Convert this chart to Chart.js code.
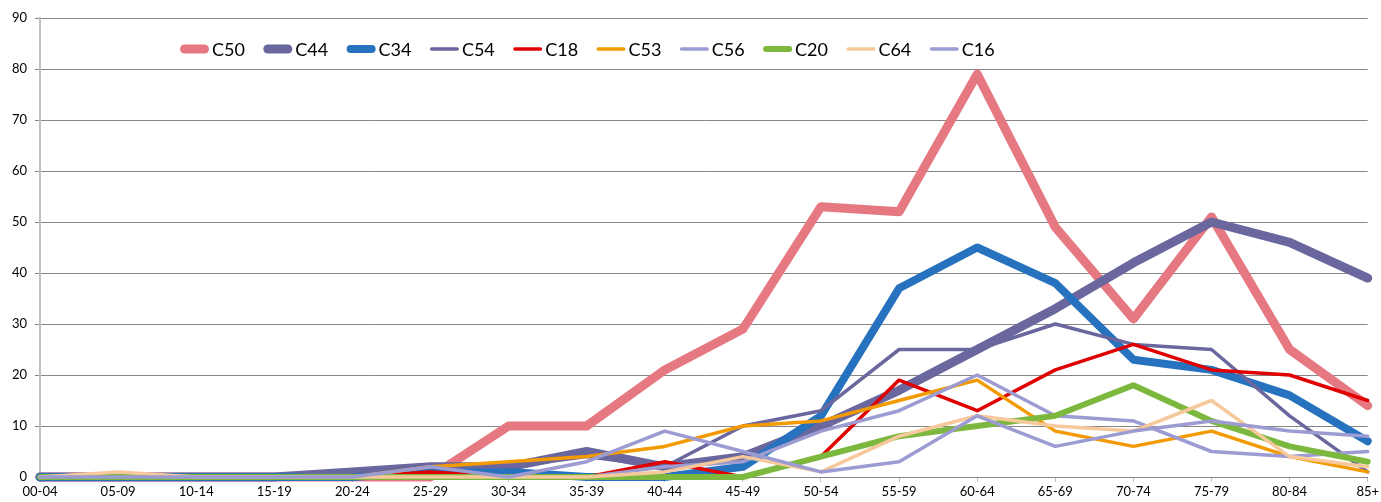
<!DOCTYPE html>
<html>
<head>
<meta charset="utf-8">
<script src="https://cdn.jsdelivr.net/npm/chart.js@4"></script>
<style>
  html, body { margin: 0; padding: 0; background: #fff; }
  #wrap { width: 1381px; height: 502px; }
</style>
</head>
<body>
<div id="wrap"><canvas id="grafico"></canvas></div>
<script>
// categorias e séries
const ageGroups = ['00-04', '05-09', '10-14', '15-19', '20-24', '25-29', '30-34', '35-39', '40-44',
  '45-49', '50-54', '55-59', '60-64', '65-69', '70-74', '75-79', '80-84', '85+'];
const C50 = [0, 0, 0, 0, 0, 0, 10, 10, 21, 29, 53, 52, 79, 49, 31, 51, 25, 14];
const C44 = [0, 0, 0, 0, 1, 2, 2, 5, 2, 4, 10, 17, 25, 33, 42, 50, 46, 39];
const C34 = [0, 0, 0, 0, 0, 1, 1, 0, 0, 2, 12, 37, 45, 38, 23, 21, 16, 7];
const C54 = [0, 0, 0, 0, 1, 2, 2, 4, 2, 10, 13, 25, 25, 30, 26, 25, 12, 1];
const C18 = [0, 0, 0, 0, 0, 1, 0, 0, 3, 0, 4, 19, 13, 21, 26, 21, 20, 15];
const C53 = [0, 0, 0, 0, 0, 2, 3, 4, 6, 10, 11, 15, 19, 9, 6, 9, 4, 1];
const C56 = [0, 0, 0, 0, 0, 0, 0, 0, 2, 3, 9, 13, 20, 12, 11, 5, 4, 5];
const C20 = [0, 0, 0, 0, 0, 0, 0, 0, 0, 0, 4, 8, 10, 12, 18, 11, 6, 3];
const C64 = [0, 1, 0, 0, 0, 0, 0, 0, 1, 4, 1, 8, 12, 10, 9, 15, 4, 2];
const C16 = [0, 0, 0, 0, 0, 2, 0, 3, 9, 5, 1, 3, 12, 6, 9, 11, 9, 8];
const yTicks = [0, 10, 20, 30, 40, 50, 60, 70, 80, 90];

const series = [
  { label: 'C50', data: C50, color: '#E67882', width: 9 },
  { label: 'C44', data: C44, color: '#69679E', width: 9 },
  { label: 'C34', data: C34, color: '#2672BE', width: 8 },
  { label: 'C54', data: C54, color: '#69679E', width: 3.5 },
  { label: 'C18', data: C18, color: '#E00000', width: 3.5 },
  { label: 'C53', data: C53, color: '#F29A00', width: 3.5 },
  { label: 'C56', data: C56, color: '#9C9BD2', width: 3.5 },
  { label: 'C20', data: C20, color: '#7DB83E', width: 6 },
  { label: 'C64', data: C64, color: '#F6C89C', width: 3.5 },
  { label: 'C16', data: C16, color: '#9C9BD2', width: 3.5 }
];

const fonte = 'Lato, "Noto Sans", sans-serif';

// legenda desenhada dentro da área do gráfico
const legendaInterna = {
  id: 'legendaInterna',
  afterDraw(chart) {
    const c = chart.ctx;
    c.save();
    c.font = '18px ' + fonte;
    c.textBaseline = 'middle';
    c.lineCap = 'round';
    series.forEach((s, i) => {
      const x = 180 + i * 83.3;
      const y = 49;
      c.strokeStyle = s.color;
      c.lineWidth = s.width;
      c.beginPath();
      c.moveTo(x + s.width / 2, y);
      c.lineTo(x + 29 - s.width / 2, y);
      c.stroke();
      c.fillStyle = '#000';
      c.fillText(s.label, x + 32, y + 1);
    });
    c.restore();
  }
};

const ctx = document.getElementById('grafico').getContext('2d');
const grafico = new Chart(ctx, {
  type: 'line',
  data: {
    labels: ageGroups,
    datasets: series.map((s, i) => ({
      label: s.label,
      data: s.data,
      borderColor: s.color,
      backgroundColor: s.color,
      borderWidth: s.width,
      borderJoinStyle: 'round',
      borderCapStyle: 'round',
      pointRadius: 0,
      tension: 0,
      clip: false,
      order: series.length - i
    }))
  },
  options: {
    responsive: true,
    maintainAspectRatio: false,
    animation: false,
    layout: { padding: { top: 18, right: 13, left: 0, bottom: 0 } },
    scales: {
      y: {
        min: 0,
        max: 90,
        afterFit(scale) { scale.width = 40; },
        afterBuildTicks(scale) { scale.ticks = yTicks.map(v => ({ value: v })); },
        ticks: {
          color: '#000',
          padding: 8,
          font: { family: fonte, size: 13 }
        },
        grid: { color: '#868686', lineWidth: 1, tickLength: 5 },
        border: { color: '#BFBFBF', width: 2 }
      },
      x: {
        offset: false,
        afterFit(scale) { scale.height = 25; },
        ticks: {
          color: '#000',
          autoSkip: false,
          maxRotation: 0,
          padding: 2,
          font: { family: fonte, size: 13 }
        },
        grid: { drawOnChartArea: false, color: '#BFBFBF', tickLength: 5 },
        border: { color: '#868686', width: 1 }
      }
    },
    plugins: {
      legend: { display: false },
      tooltip: { enabled: false }
    }
  },
  plugins: [legendaInterna]
});
</script>
</body>
</html>
